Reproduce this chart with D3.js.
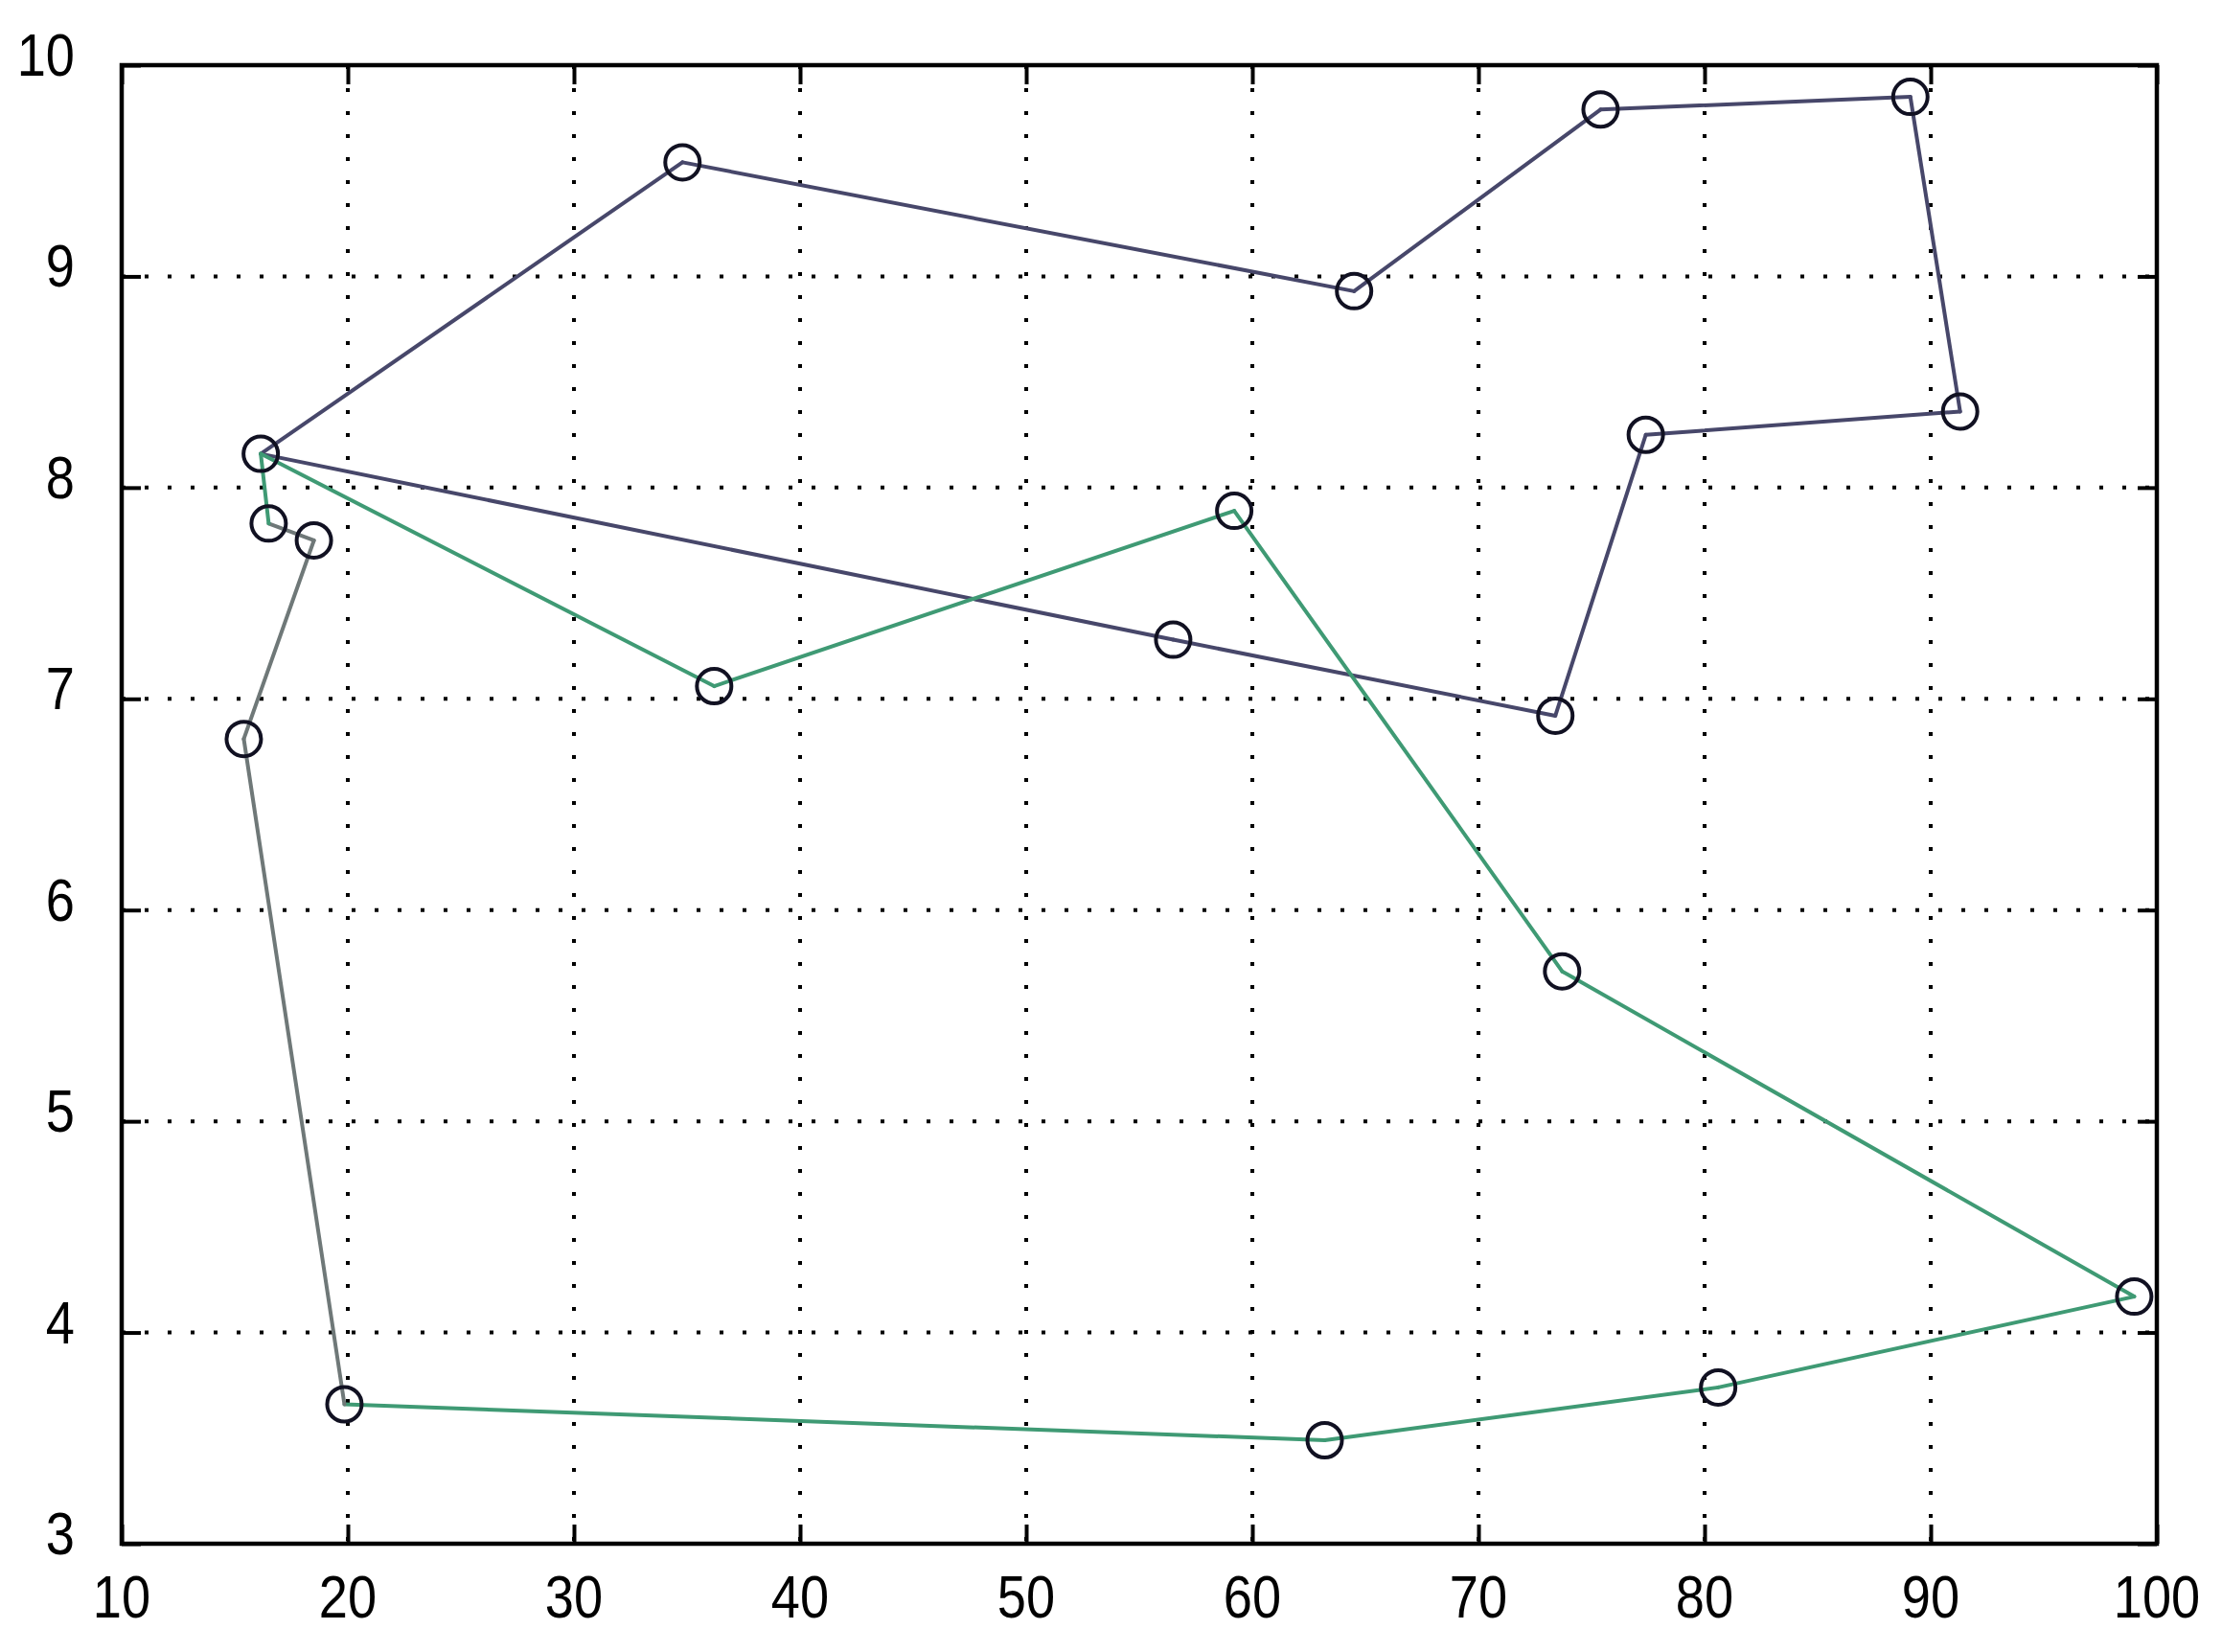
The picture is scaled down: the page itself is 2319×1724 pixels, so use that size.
<!DOCTYPE html>
<html>
<head>
<meta charset="utf-8">
<script src="https://cdn.jsdelivr.net/npm/d3@7"></script>
<style>
  html, body { margin: 0; padding: 0; background: #ffffff; }
  svg { display: block; }
  text { font-family: "Liberation Sans", Arial, sans-serif; }
</style>
</head>
<body>
<script>
// ---- data ----
const cityX = [16.15, 16.5, 18.5, 15.4, 19.85, 63.2, 80.6, 99.0, 73.7, 59.2, 36.2, 56.5, 73.4, 77.4, 91.3, 89.1, 75.4, 64.5, 34.8];
const cityY = [8.16, 7.83, 7.75, 6.81, 3.66, 3.49, 3.74, 4.17, 5.71, 7.89, 7.06, 7.28, 6.92, 8.25, 8.36, 9.85, 9.79, 8.93, 9.54];
// route A (upper loop) and route B (lower loop), by city index
const routeA = [0, 18, 17, 16, 15, 14, 13, 12, 11, 0];
const routeB = [0, 10, 9, 8, 7, 6, 5, 4, 3, 2, 1, 0];
// group of each segment of route B ("g" = green, "m" = mixed/gray)
const routeBGroup = ["g", "g", "g", "g", "g", "g", "g", "m", "m", "m", "g"];
const xTicks = [10, 20, 30, 40, 50, 60, 70, 80, 90, 100];
const yTicks = [3, 4, 5, 6, 7, 8, 9, 10];
const xLabels = ["10", "20", "30", "40", "50", "60", "70", "80", "90", "100"];
const yLabels = ["3", "4", "5", "6", "7", "8", "9", "10"];

// ---- layout ----
const W = 2319, H = 1724;
const L = 127, R = 2251, T = 68, B = 1611;
const colors = { a: "#47476a", g: "#3f9a74", m: "#6f7878" };

const svg = d3.select("body").append("svg").attr("width", W).attr("height", H);
svg.append("rect").attr("width", W).attr("height", H).attr("fill", "#fff");

const x = d3.scaleLinear().domain([10, 100]).range([L, R]);
const y = d3.scaleLinear().domain([3, 10]).range([B, T]);

// grid (dotted)
const grid = svg.append("g");
grid.selectAll("line.gx").data(xTicks.slice(1, -1)).join("line")
  .attr("x1", d => x(d)).attr("x2", d => x(d)).attr("y1", T).attr("y2", B)
  .attr("stroke", "#000").attr("stroke-width", 4).attr("stroke-dasharray", "4,20");
grid.selectAll("line.gy").data(yTicks.slice(1, -1)).join("line")
  .attr("x1", L).attr("x2", R).attr("y1", d => y(d)).attr("y2", d => y(d))
  .attr("stroke", "#000").attr("stroke-width", 4).attr("stroke-dasharray", "4,20");

// inward ticks on all four sides using d3 axes
const tickLen = 20;
function styleAxis(g) {
  g.select(".domain").remove();
  g.selectAll(".tick line").attr("stroke", "#000").attr("stroke-width", 4);
  g.selectAll(".tick text").remove();
}
svg.append("g").attr("transform", `translate(0,${B})`)
  .call(d3.axisBottom(x).tickValues(xTicks).tickSize(-tickLen)).call(styleAxis);
svg.append("g").attr("transform", `translate(0,${T})`)
  .call(d3.axisTop(x).tickValues(xTicks).tickSize(-tickLen)).call(styleAxis);
svg.append("g").attr("transform", `translate(${L},0)`)
  .call(d3.axisLeft(y).tickValues(yTicks).tickSize(-tickLen)).call(styleAxis);
svg.append("g").attr("transform", `translate(${R},0)`)
  .call(d3.axisRight(y).tickValues(yTicks).tickSize(-tickLen)).call(styleAxis);

// routes
const lines = svg.append("g").attr("fill", "none").attr("stroke-width", 4).attr("stroke-linecap", "round");
const segA = d3.pairs(routeA);
lines.selectAll("line.a").data(segA).join("line")
  .attr("x1", d => x(cityX[d[0]])).attr("y1", d => y(cityY[d[0]]))
  .attr("x2", d => x(cityX[d[1]])).attr("y2", d => y(cityY[d[1]]))
  .attr("stroke", colors.a);
const segB = d3.pairs(routeB).map((p, i) => ({ p, grp: routeBGroup[i] }));
lines.selectAll("line.b").data(segB).join("line")
  .attr("x1", d => x(cityX[d.p[0]])).attr("y1", d => y(cityY[d.p[0]]))
  .attr("x2", d => x(cityX[d.p[1]])).attr("y2", d => y(cityY[d.p[1]]))
  .attr("stroke", d => colors[d.grp]);

// city markers
svg.append("g").selectAll("circle").data(cityX.map((v, i) => [v, cityY[i]])).join("circle")
  .attr("cx", d => x(d[0])).attr("cy", d => y(d[1])).attr("r", 18)
  .attr("fill", "none").attr("stroke", "#111122").attr("stroke-width", 4);

// frame
svg.append("rect").attr("x", L).attr("y", T).attr("width", R - L).attr("height", B - T)
  .attr("fill", "none").attr("stroke", "#000").attr("stroke-width", 4.5);

// tick labels (condensed look)
const sx = 0.86;
svg.append("g").selectAll("text").data(xTicks).join("text")
  .attr("transform", d => `translate(${x(d)},${B + 77}) scale(${sx},1)`)
  .attr("text-anchor", "middle")
  .attr("font-size", 63).attr("fill", "#000").text((d, i) => xLabels[i]);
svg.append("g").selectAll("text").data(yTicks).join("text")
  .attr("transform", d => `translate(78,${y(d) + 11}) scale(${sx},1)`)
  .attr("text-anchor", "end")
  .attr("font-size", 63).attr("fill", "#000").text((d, i) => yLabels[i]);
</script>
</body>
</html>
